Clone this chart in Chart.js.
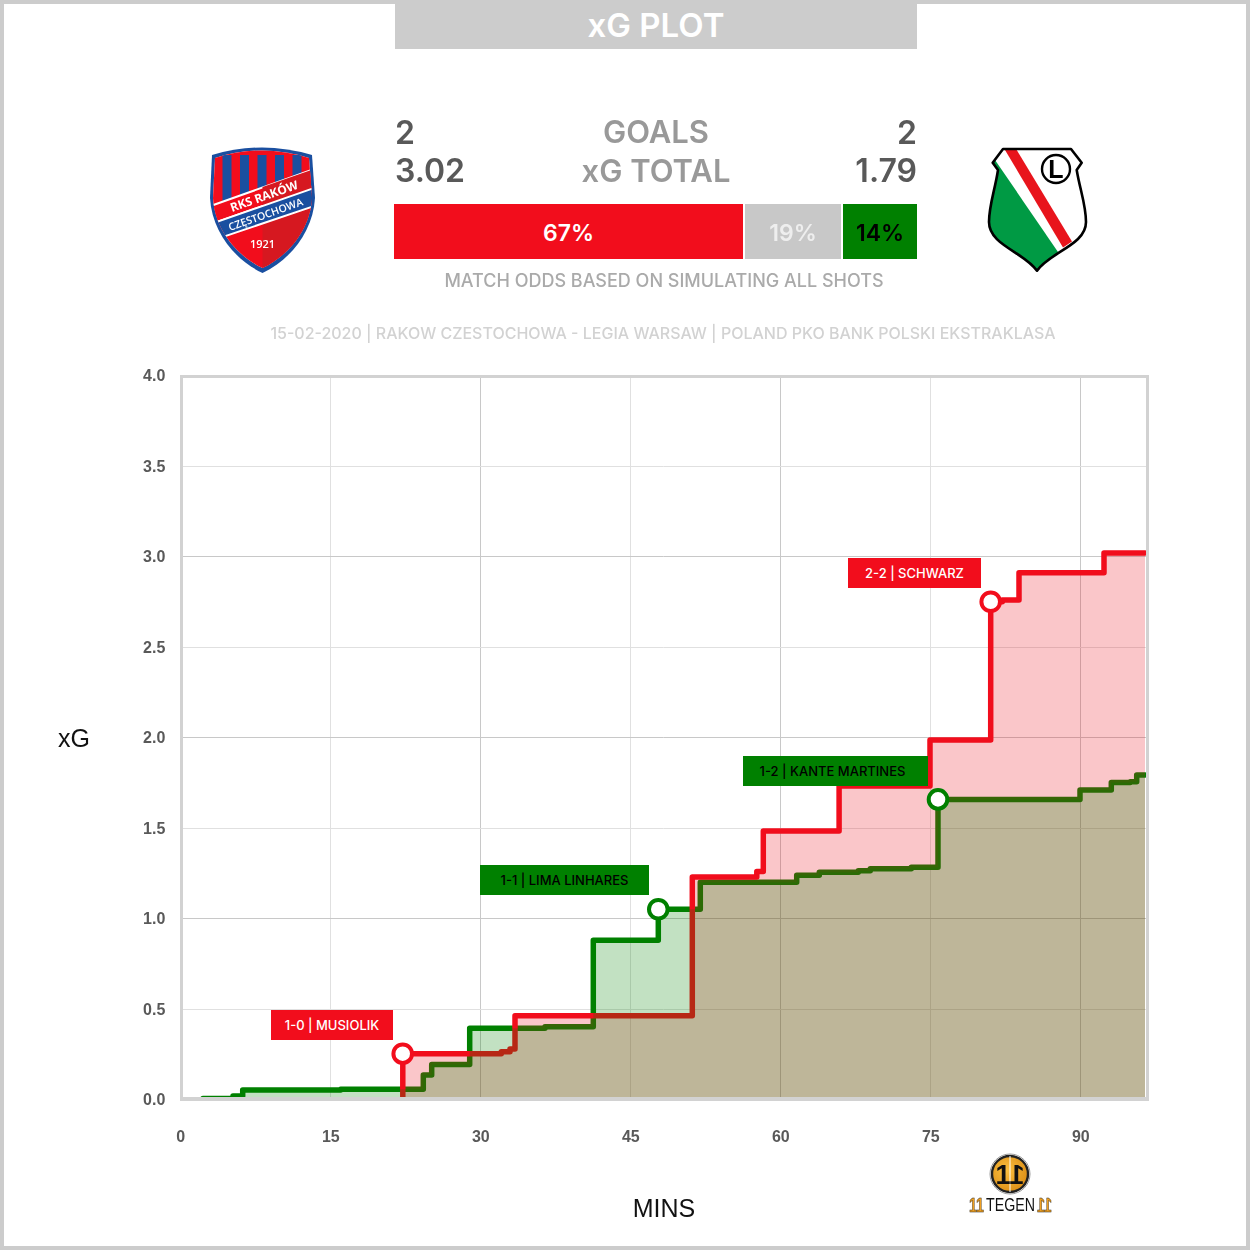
<!DOCTYPE html>
<html>
<head>
<meta charset="utf-8">
<title>xG PLOT</title>
<script src="https://cdn.jsdelivr.net/npm/chart.js@4"></script>
<style>
html, body { margin: 0; padding: 0; background: #fff; }
#page { position: relative; width: 1250px; height: 1250px; overflow: hidden; font-family: Inter, sans-serif; font-weight: 500; }
#page > div, #page > canvas, #page > svg { position: absolute; box-sizing: border-box; }
#chart { left: 0; top: 0; }
#logos { left: 0; top: 0; }
#border { left: 0; top: 0; width: 1250px; height: 1250px; border: 4px solid #cccccc; }
#frame { left: 180px; top: 375px; width: 969px; height: 726px; border: 3px solid #d2d2d2; border-bottom-width: 4px; }
.t { white-space: nowrap; line-height: 1; transform: translate(-50%, -50%); }
.r { transform: translate(-100%, -50%); }
.l { transform: translate(0, -50%); }
.bar { display: flex; align-items: center; justify-content: center; font-size: 23px; font-weight: 600; }
.tag { display: flex; align-items: center; justify-content: center; font-size: 13px; height: 30px; top: 0; }
.red { background: #f20d1c; color: #fff; }
.green { background: #008000; color: #000; }
.axis { font-family: "Liberation Sans", sans-serif; font-weight: 400; font-size: 25px; color: #111; }
</style>
</head>
<body>
<div id="page">
  <canvas id="chart" width="1250" height="1250"></canvas>
  <div id="frame"></div>
  <div id="border"></div>

  <div style="left:395px;top:0;width:522px;height:49px;background:#ccc"></div>
  <div class="t" style="left:656px;top:25px;font-size:33px;font-weight:600;color:#fff">xG PLOT</div>

  <div class="t l" style="left:395px;top:133px;font-size:32px;font-weight:600;color:#595959">2</div>
  <div class="t" style="left:656px;top:131px;font-size:31px;font-weight:600;color:#999">GOALS</div>
  <div class="t r" style="left:917px;top:133px;font-size:32px;font-weight:600;color:#595959">2</div>
  <div class="t l" style="left:395px;top:171px;font-size:32px;font-weight:600;color:#595959">3.02</div>
  <div class="t" style="left:656px;top:170px;font-size:31px;font-weight:600;color:#999">xG TOTAL</div>
  <div class="t r" style="left:917px;top:171px;font-size:32px;font-weight:600;color:#595959">1.79</div>

  <div class="bar red" style="left:394px;top:204px;width:349px;height:55px;padding-top:3px">67%</div>
  <div class="bar" style="left:745px;top:204px;width:96px;height:55px;padding-top:3px;background:#c8c8c8;color:#eee">19%</div>
  <div class="bar green" style="left:843px;top:204px;width:74px;height:55px;padding-top:3px">14%</div>

  <div class="t" style="left:664px;top:281px;font-size:18px;color:#aaa">MATCH ODDS BASED ON SIMULATING ALL SHOTS</div>
  <div class="t" style="left:663px;top:333px;font-size:16px;color:#d2d2d2">15-02-2020 | RAKOW CZESTOCHOWA - LEGIA WARSAW | POLAND PKO BANK POLSKI EKSTRAKLASA</div>

  <div class="tag red" style="left:271px;top:1010px;width:122px">1-0 | MUSIOLIK</div>
  <div class="tag green" style="left:480px;top:865px;width:169px">1-1 | LIMA LINHARES</div>
  <div class="tag green" style="left:743px;top:756px;width:185px;padding-right:6px">1-2 | KANTE MARTINES</div>
  <div class="tag red" style="left:848px;top:558px;width:133px">2-2 | SCHWARZ</div>

  <div class="t axis" style="left:74px;top:738px">xG</div>
  <div class="t axis" style="left:664px;top:1208px">MINS</div>

  <svg id="logos" width="1250" height="1250" viewBox="0 0 1250 1250">
    <defs>
      <clipPath id="rakowClip">
        <path d="M215 158 Q262 143 309 158 L312 198 C310 230 288 256 262.5 268 C237 256 215 230 213 198 Z"/>
      </clipPath>
      <clipPath id="legiaClip">
        <path d="M1003 149 L1071 149 L1081.7 162.7 L1076.7 170 C1080 190 1086 205 1086 222 C1086 245 1050 252 1037 270.7 C1024 252 989 245 989 222 C989 205 995 190 998 170 L992.7 162.7 Z"/>
      </clipPath>
      <radialGradient id="gold" cx="0.4" cy="0.4" r="0.7">
        <stop offset="0" stop-color="#fbbf3f"/>
        <stop offset="1" stop-color="#d98a12"/>
      </radialGradient>
    </defs>

    <!-- Rakow -->
    <path d="M212 155 Q262 140 312 155 L315 198 C313 232 290 260 262.5 273 C235 260 212 232 210 198 Z" fill="#1a4fa0"/>
    <path d="M215 158 Q262 143 309 158 L312 198 C310 230 288 256 262.5 268 C237 256 215 230 213 198 Z" fill="#fff"/>
    <g clip-path="url(#rakowClip)">
      <rect x="205" y="140" width="115" height="135" fill="#f20d1c"/>
      <path d="M262.5 210 L320 190 L320 275 L262.5 275 Z" fill="#d61820"/>
      <rect x="222.5" y="155" width="9" height="60" fill="#1a4fa0"/>
      <rect x="240" y="155" width="9" height="50" fill="#1a4fa0"/>
      <rect x="257.5" y="155" width="9" height="45" fill="#1a4fa0"/>
      <rect x="275" y="155" width="9" height="38" fill="#1a4fa0"/>
      <rect x="292.5" y="155" width="9" height="32" fill="#1a4fa0"/>
      <path d="M205 208 L320 167 L320 186 L205 226 Z" fill="#f20d1c" stroke="#fff" stroke-width="2"/>
      <path d="M262.5 187 L320 167 L320 186 L262.5 206 Z" fill="#d61820"/>
      <path d="M205 226 L320 186 L320 204 L205 243 Z" fill="#1a4fa0" stroke="#fff" stroke-width="2"/>
    </g>
    <text transform="translate(232 212) rotate(-19.5)" font-size="12" font-weight="700" fill="#fff" font-family="Open Sans">RKS RAKÓW</text>
    <text transform="translate(230 231) rotate(-19.5)" font-size="10.5" font-weight="600" fill="#fff" font-family="Open Sans">CZĘSTOCHOWA</text>
    <text x="262.5" y="248" text-anchor="middle" font-size="11" font-weight="600" fill="#fff" font-family="Open Sans">1921</text>

    <!-- Legia -->
    <path d="M1003 149 L1071 149 L1081.7 162.7 L1076.7 170 C1080 190 1086 205 1086 222 C1086 245 1050 252 1037 270.7 C1024 252 989 245 989 222 C989 205 995 190 998 170 L992.7 162.7 Z" fill="#fff"/>
    <g clip-path="url(#legiaClip)">
      <path d="M995 160 L1058 252 L1037 280 L980 250 L980 160 Z" fill="#009a44"/>
      <path d="M1005 150 L1016.7 150 L1072 241.5 L1063 247.5 Z" fill="#e8141c"/>
    </g>
    <path d="M1003 149 L1071 149 L1081.7 162.7 L1076.7 170 C1080 190 1086 205 1086 222 C1086 245 1050 252 1037 270.7 C1024 252 989 245 989 222 C989 205 995 190 998 170 L992.7 162.7 Z" fill="none" stroke="#000" stroke-width="2.6" stroke-linejoin="round"/>
    <circle cx="1056" cy="169" r="14" fill="#fff" stroke="#000" stroke-width="2.4"/>
    <text x="1056" y="178" text-anchor="middle" font-size="25" font-weight="700" fill="#000" font-family="Liberation Sans">L</text>

    <!-- 11tegen -->
    <circle cx="1010" cy="1174" r="18" fill="url(#gold)" stroke="#222" stroke-width="2.4"/>
    <circle cx="1010" cy="1174" r="20" fill="none" stroke="#999" stroke-width="1"/>
    <line x1="1010" y1="1156" x2="1010" y2="1192" stroke="#fff" stroke-width="1"/>
    <text x="1003" y="1184" text-anchor="middle" font-size="27" font-weight="700" fill="#111" font-family="Liberation Sans">1</text>
    <text transform="translate(1017 1184) scale(-1 1)" text-anchor="middle" font-size="27" font-weight="700" fill="#111" font-family="Liberation Sans">1</text>
    <text x="969" y="1212" font-size="20" font-weight="700" fill="#f0a020" stroke="#222" stroke-width="0.5" textLength="15" lengthAdjust="spacingAndGlyphs" font-family="Liberation Sans">11</text>
    <text x="986" y="1211" font-size="18" fill="#111" textLength="49" lengthAdjust="spacingAndGlyphs" font-family="Liberation Sans">TEGEN</text>
    <text transform="translate(1052 1212) scale(-1 1)" font-size="20" font-weight="700" fill="#f0a020" stroke="#222" stroke-width="0.5" textLength="15" lengthAdjust="spacingAndGlyphs" font-family="Liberation Sans">11</text>
  </svg>
</div>

<script>
// step lines
const redMins = [22.24, 22.25, 32.1, 32.97, 33.47, 51.2, 57.65, 58.3, 65.88, 74.97, 81.04, 82.2, 83.87, 92.37, 96.47];
const redXg = [0, 0.253, 0.264, 0.279, 0.463, 1.229, 1.259, 1.483, 1.732, 1.986, 2.75, 2.76, 2.91, 3.02, 3.02];
const greenMins = [2.27, 5.27, 6.24, 16.04, 24.3, 25.14, 28.94, 36.47, 41.3, 47.8, 52, 61.64, 63.9, 67.8, 69, 73.1, 75.77, 89.97, 93.1, 95, 95.64, 96.47];
const greenXg = [0.005, 0.02, 0.052, 0.056, 0.135, 0.194, 0.393, 0.402, 0.88, 1.051, 1.2, 1.239, 1.255, 1.264, 1.275, 1.283, 1.658, 1.71, 1.752, 1.756, 1.793, 1.793];

const redGoalMins = [22.24, 81.04];
const redGoalXg = [0.253, 2.75];
const greenGoalMins = [47.8, 75.77];
const greenGoalXg = [1.051, 1.658];

const xTicks = [0, 15, 30, 45, 60, 75, 90];
const yTicks = [0, 0.5, 1, 1.5, 2, 2.5, 3, 3.5, 4];

const RED = '#f20d1c';
const GREEN = '#008000';

const toPoints = (xs, ys) => xs.map((x, i) => ({ x: x, y: ys[i] }));

function stepLine(xs, ys, color, order) {
    return {
        data: toPoints(xs, ys), stepped: 'before', order: order,
        borderColor: color, borderWidth: 5.5, borderJoinStyle: 'round', borderCapStyle: 'round',
        pointRadius: 0, fill: false
    };
}

// fills sit on top of both lines, that is how the colours mix in the original
function stepFill(xs, ys, color, order) {
    return {
        data: toPoints(xs, ys), stepped: 'before', order: order,
        borderWidth: 0, borderColor: 'transparent', backgroundColor: color,
        pointRadius: 0, fill: 'origin'
    };
}

function goals(xs, ys, color) {
    return {
        data: toPoints(xs, ys), showLine: false, order: 0,
        pointRadius: 9.3, pointBorderWidth: 4,
        pointBackgroundColor: '#fff', pointBorderColor: color
    };
}

const tickFont = { family: '"Liberation Sans", sans-serif', size: 16, weight: 'bold' };

new Chart(document.getElementById('chart'), {
    type: 'line',
    data: {
        datasets: [
            stepLine(greenMins, greenXg, GREEN, 4),
            stepLine(redMins, redXg, RED, 3),
            stepFill(redMins, redXg, 'rgba(234,17,30,0.24)', 2),
            stepFill(greenMins, greenXg, 'rgba(0,128,0,0.24)', 1),
            goals(redGoalMins, redGoalXg, RED),
            goals(greenGoalMins, greenGoalXg, GREEN)
        ]
    },
    options: {
        responsive: false,
        animation: false,
        devicePixelRatio: 1,
        layout: { padding: { top: 375.5, right: 103.2 } },
        plugins: { legend: { display: false }, tooltip: { enabled: false } },
        scales: {
            x: {
                type: 'linear', min: 0, max: 96.65,
                afterBuildTicks: s => { s.ticks = xTicks.map(v => ({ value: v })); },
                afterFit: s => { s.height = 150.5; },
                grid: {
                    drawTicks: false,
                    color: c => (c.tick.value % 30 === 0 ? '#c8c8c8' : '#e0e0e0')
                },
                border: { display: false },
                ticks: { padding: 28, labelOffset: 0.5, font: tickFont, color: '#595959', maxRotation: 0, autoSkip: false }
            },
            y: {
                min: 0, max: 4,
                afterBuildTicks: s => { s.ticks = yTicks.map(v => ({ value: v })); },
                afterFit: s => { s.width = 180.3; },
                grid: {
                    drawTicks: false,
                    color: c => (c.tick.value % 1 === 0 ? '#c8c8c8' : '#e0e0e0')
                },
                border: { display: false },
                ticks: { padding: 15, labelOffset: 1.5, font: tickFont, color: '#595959', autoSkip: false, callback: v => v.toFixed(1) }
            }
        }
    }
});
</script>
</body>
</html>
